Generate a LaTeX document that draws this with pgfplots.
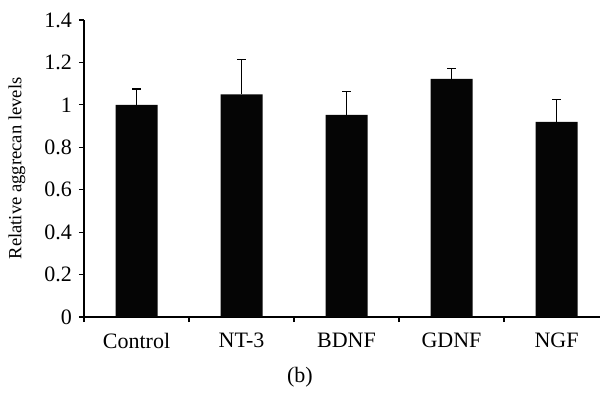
\documentclass[border=0pt]{standalone}
\usepackage{fontspec}
\setmainfont{Liberation Serif}
\usepackage{pgfplots}
\pgfplotsset{compat=1.18}
\begin{document}
\begin{tikzpicture}
\begin{axis}[
  name=ax,
  scale only axis,
  width=258pt, height=148.5pt,
  xmin=-0.5, xmax=4.414,
  ymin=0, ymax=1.4,
  axis lines*=left,
  axis line style={line width=0.6pt},
  ytick={0,0.2,...,1.4},
  yticklabels={0,0.2,0.4,0.6,0.8,1,1.2,1.4},
  xtick={0,1,2,3,4},
  xticklabels={Control,NT-3,BDNF,GDNF,NGF},
  minor xtick={-0.5,0.5,1.5,2.5,3.5},
  tick align=outside,
  major tick length=2.5pt,
  x tick style={draw=none},
  minor x tick style={draw=black, line width=0.6pt},
  minor tick length=2.5pt,
  y tick style={line width=0.6pt, black},
  /pgf/number format/assume math mode=true,
  tick label style={font=\fontsize{11}{13}\selectfont},
  xticklabel style={yshift=-2pt},
  ylabel={Relative aggrecan levels},
  ylabel style={font=\fontsize{9.3}{11}\selectfont, at={(axis description cs:-0.1298,0.5)}, anchor=center, rotate=0},
  clip=false,
]
\addplot[ybar, bar width=21pt, fill=black!98, draw=none,
  error bars/.cd, y dir=plus, y explicit,
  error bar style={line width=0.6pt, draw=black},
  error mark options={rotate=90, mark size=2.2pt, line width=0.6pt, draw=black}]
  coordinates {
  (0,1.000) +- (0,0.075)
  (1,1.050) +- (0,0.162)
  (2,0.953) +- (0,0.110)
  (3,1.123) +- (0,0.050)
  (4,0.920) +- (0,0.105)
  };
\node[font=\fontsize{11}{13}\selectfont] at (rel axis cs:0.4186,0) [yshift=-30pt] {(b)};
\end{axis}
\pgfresetboundingbox
\path ([xshift=-42pt,yshift=-37.5pt]ax.south west) rectangle ([yshift=10pt]ax.north east);
\end{tikzpicture}
\end{document}
